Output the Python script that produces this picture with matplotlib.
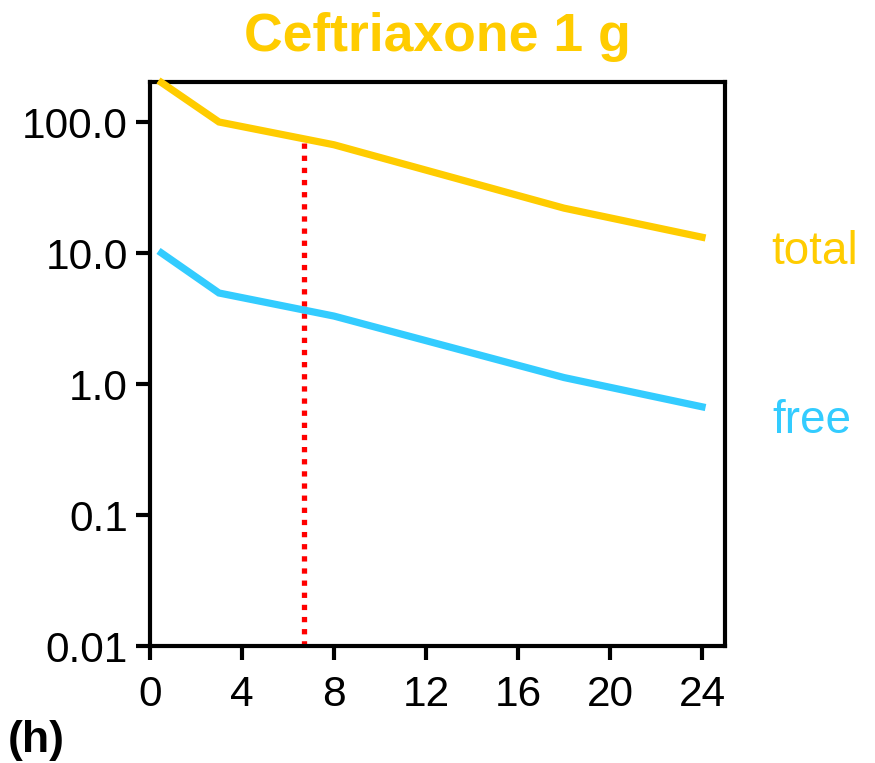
import matplotlib
matplotlib.use("Agg")
import matplotlib.pyplot as plt
from matplotlib.ticker import FixedLocator, FixedFormatter, NullLocator

plt.rcParams['font.family'] = ['Liberation Sans', 'DejaVu Sans']

times = [0.5, 3, 8, 18, 24]
total = [200, 100, 67, 22, 13.2]
free = [10, 4.95, 3.3, 1.12, 0.67]
marker_time = 6.7
marker_top = 75
yticks = [0.01, 0.1, 1, 10, 100]
ytick_labels = ["0.01", "0.1", "1.0", "10.0", "100.0"]
xticks = [0, 4, 8, 12, 16, 20, 24]

gold = "#FFCC00"
cyan = "#33CCFF"

fig = plt.figure(figsize=(8.75, 7.63), dpi=100)
ax = fig.add_axes([150/875, 1-646/763, 575/875, (646-82)/763])

ax.plot(times, total, color=gold, lw=5.2, solid_joinstyle='miter', clip_on=False, zorder=3)
ax.plot(times, free, color=cyan, lw=5.2, solid_joinstyle='miter', zorder=3)
ax.plot([marker_time, marker_time], [0.01, marker_top], color="#FF0000", lw=3.8,
        linestyle=(0, (1, 1.3)), dash_capstyle='butt', zorder=2, clip_on=False)

ax.set_yscale('log')
ax.set_ylim(0.01, 202)
ax.set_xlim(0, 25)
ax.yaxis.set_major_locator(FixedLocator(yticks))
ax.yaxis.set_major_formatter(FixedFormatter(ytick_labels))
ax.yaxis.set_minor_locator(NullLocator())
ax.set_xticks(xticks)
ax.set_xticklabels([str(x) for x in xticks])

for s in ax.spines.values():
    s.set_linewidth(3)
ax.tick_params(axis='both', which='major', length=10, width=3, labelsize=30.5, pad=6, color='black')
ax.tick_params(axis='x', pad=11)

ax.set_title("Ceftriaxone 1 g", color=gold, fontsize=38.5, fontweight='bold', pad=22)

fig.text(815/875, 1-264/763, "total", color=gold, fontsize=33, ha='center', va='baseline')
fig.text(812/875, 1-433/763, "free", color=cyan, fontsize=33, ha='center', va='baseline')
fig.text(8/875, 2/763, "(h)", color='black', fontsize=32, fontweight='bold', ha='left', va='bottom')

fig.savefig("out.png", dpi=100)
